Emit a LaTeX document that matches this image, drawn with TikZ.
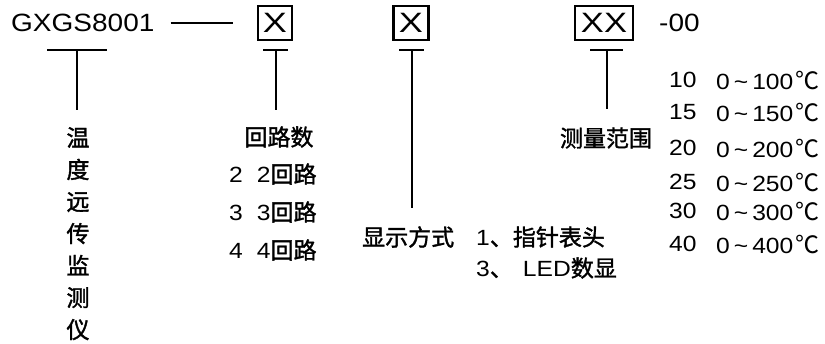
\documentclass[tikz,border=0pt]{standalone}
\usepackage{fontspec}
\setmainfont{Liberation Sans}[FakeStretch=1.12]
\newfontfamily\cj{Noto Sans CJK SC}[FakeBold=1.5]
\newfontfamily\cjreg{Noto Sans CJK SC}
\begin{document}
\begin{tikzpicture}[x=1pt,y=-1pt,
  lbl/.style={inner sep=0pt, font=\fontsize{22}{26}\selectfont},
  big/.style={inner sep=0pt, font=\fontsize{25}{26}\selectfont},
  cjk/.style={inner sep=0pt, font=\cj\fontsize{23}{26}\selectfont},
  codebox/.style={draw, line width=2.4pt, minimum height=34pt, inner sep=0pt, font=\fontsize{28}{28}\selectfont},
  tee/.style={line width=2pt},
  dashline/.style={line width=1.8pt}]
\useasboundingbox (0,0) rectangle (825,343);

% top code line
\node[big, anchor=west] (gx) at (11,23) {GXGS8001};
\node[codebox, minimum width=34pt] (b1) at (275,23) {\scalebox{1.15}[1]{X}};
\node[codebox, minimum width=35pt] (b2) at (411,23) {\scalebox{1.15}[1]{X}};
\node[codebox, minimum width=58pt] (b3) at (604,23) {\scalebox{1.1}[1]{XX}};
\node[big, anchor=west] (suf) at (659,23) {-00};
\draw[dashline] ([xshift=16pt]gx.east) -- ([xshift=-24pt]b1.west);

% tee connectors
\coordinate (t0) at (77,50);  \coordinate (t0b) at (77,110);
\coordinate (t1) at (276,50); \coordinate (t1b) at (276,110);
\coordinate (t2) at (412,50); \coordinate (t2b) at (412,208);
\coordinate (t3) at (607,50); \coordinate (t3b) at (607,109);
\draw[tee] ([xshift=-30pt]t0) -- ([xshift=30pt]t0);
\draw[tee] (t0) -- (t0b);
\draw[tee] ([xshift=-13pt]t1) -- ([xshift=12pt]t1);
\draw[tee] (t1) -- (t1b);
\draw[tee] ([xshift=-13pt]t2) -- ([xshift=12pt]t2);
\draw[tee] (t2) -- (t2b);
\draw[tee] ([xshift=-17pt]t3) -- ([xshift=16pt]t3);
\draw[tee] (t3) -- (t3b);

% labels
\node[cjk, align=center, anchor=north, font=\cj\fontsize{23}{32}\selectfont] (name) at (78,127)
  {温\\度\\远\\传\\监\\测\\仪};

\node[cjk] (loops) at (279,137) {回路数};
\node[lbl, anchor=west] (l2) at (229,174) {2\hspace{14pt}2{\cj\fontsize{23}{26}\selectfont 回路}};
\node[lbl, anchor=west] (l3) at (229,212) {3\hspace{14pt}3{\cj\fontsize{23}{26}\selectfont 回路}};
\node[lbl, anchor=west] (l4) at (229,250) {4\hspace{14pt}4{\cj\fontsize{23}{26}\selectfont 回路}};

\node[cjk, anchor=west] (disp) at (362,237) {显示方式};
\node[lbl, anchor=west] (d1) at (476,237) {1{\cj\fontsize{23}{26}\selectfont 、指针表头}};
\node[lbl, anchor=west] (d3) at (476,268) {3{\cj\fontsize{23}{26}\selectfont 、}\hspace{10pt}LED{\cj\fontsize{23}{26}\selectfont 数显}};

\node[cjk] (range) at (606,138) {测量范围};

\foreach \c/\r/\y in {10/100/80, 15/150/112, 20/200/148, 25/250/182, 30/300/211, 40/400/244}{
  \node[lbl, anchor=west] (c\c) at (669,\y) {\c};
  \node[lbl, anchor=west] (r\c) at (716,\y) {0\hspace{4pt}\textasciitilde\hspace{4pt}\r\hspace{2pt}{\cjreg\fontsize{24}{26}\selectfont ℃}};
}
\end{tikzpicture}
\end{document}
